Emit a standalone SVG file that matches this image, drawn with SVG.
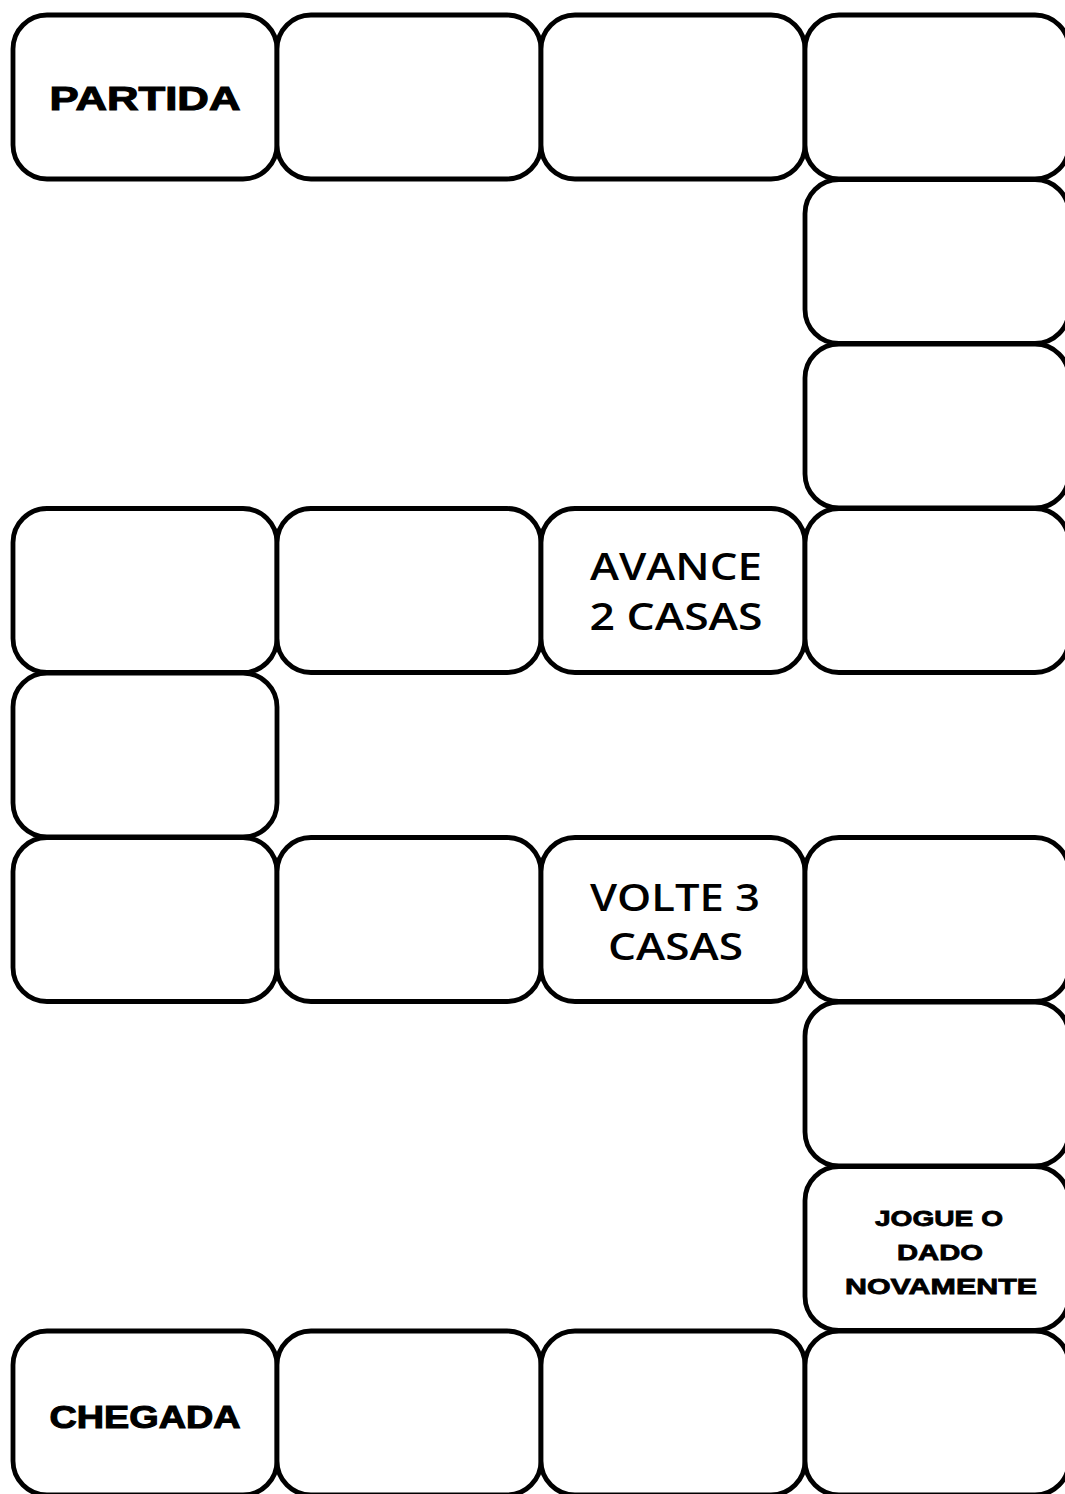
<svg xmlns="http://www.w3.org/2000/svg" width="1065" height="1494" viewBox="0 0 1065 1494">
  <style>
    .cell { fill: #ffffff; stroke: #000000; stroke-width: 4.8; }
    .heavy { font-family: "Liberation Sans", Arial, sans-serif; font-weight: 900; fill: #000; stroke: #000; stroke-width: 1.1; text-anchor: middle; }
    .heavy.small { stroke-width: 0.8; }
    .soft { font-family: "Open Sans", "Liberation Sans", sans-serif; font-weight: 600; fill: #000; text-anchor: middle; }
  </style>
  <defs>
    <rect id="tile" x="0" y="0" width="264" height="164" rx="34" ry="34"/>
  </defs>
  <rect width="1065" height="1494" fill="#ffffff"/>

  <!-- connectors: none, the track squares touch each other -->
  <g id="connectors"/>

  <!-- row 0 -->
  <g id="cell-partida">
    <use href="#tile" class="cell" x="13" y="15"/>
    <text class="heavy" x="145" y="110" font-size="34" textLength="191" lengthAdjust="spacingAndGlyphs">PARTIDA</text>
  </g>
  <g id="cell-r0c1"><use href="#tile" class="cell" x="277" y="15"/></g>
  <g id="cell-r0c2"><use href="#tile" class="cell" x="541" y="15"/></g>
  <g id="cell-r0c3"><use href="#tile" class="cell" x="805" y="15"/></g>

  <!-- right column going down -->
  <g id="cell-r1c3"><use href="#tile" class="cell" x="805" y="179.5"/></g>
  <g id="cell-r2c3"><use href="#tile" class="cell" x="805" y="344"/></g>

  <!-- row 3 -->
  <g id="cell-r3c0"><use href="#tile" class="cell" x="13" y="508.5"/></g>
  <g id="cell-r3c1"><use href="#tile" class="cell" x="277" y="508.5"/></g>
  <g id="cell-avance">
    <use href="#tile" class="cell" x="541" y="508.5"/>
    <text class="soft" x="676" y="580" font-size="37" textLength="172" lengthAdjust="spacingAndGlyphs">AVANCE</text>
    <text class="soft" x="676" y="630" font-size="37" textLength="173" lengthAdjust="spacingAndGlyphs">2 CASAS</text>
  </g>
  <g id="cell-r3c3"><use href="#tile" class="cell" x="805" y="508.5"/></g>

  <!-- left column going down -->
  <g id="cell-r4c0"><use href="#tile" class="cell" x="13" y="673"/></g>

  <!-- row 5 -->
  <g id="cell-r5c0"><use href="#tile" class="cell" x="13" y="837.5"/></g>
  <g id="cell-r5c1"><use href="#tile" class="cell" x="277" y="837.5"/></g>
  <g id="cell-volte">
    <use href="#tile" class="cell" x="541" y="837.5"/>
    <text class="soft" x="675" y="911" font-size="37" textLength="170" lengthAdjust="spacingAndGlyphs">VOLTE 3</text>
    <text class="soft" x="675.5" y="960" font-size="37" textLength="135" lengthAdjust="spacingAndGlyphs">CASAS</text>
  </g>
  <g id="cell-r5c3"><use href="#tile" class="cell" x="805" y="837.5"/></g>

  <!-- right column going down -->
  <g id="cell-r6c3"><use href="#tile" class="cell" x="805" y="1002"/></g>
  <g id="cell-jogue">
    <use href="#tile" class="cell" x="805" y="1166.5"/>
    <text class="heavy small" x="939" y="1226" font-size="22" textLength="128" lengthAdjust="spacingAndGlyphs">JOGUE O</text>
    <text class="heavy small" x="940" y="1260" font-size="22" textLength="86" lengthAdjust="spacingAndGlyphs">DADO</text>
    <text class="heavy small" x="941" y="1294" font-size="22" textLength="192" lengthAdjust="spacingAndGlyphs">NOVAMENTE</text>
  </g>

  <!-- row 8 -->
  <g id="cell-chegada">
    <use href="#tile" class="cell" x="13" y="1331"/>
    <text class="heavy" x="145" y="1428" font-size="32" textLength="191" lengthAdjust="spacingAndGlyphs">CHEGADA</text>
  </g>
  <g id="cell-r8c1"><use href="#tile" class="cell" x="277" y="1331"/></g>
  <g id="cell-r8c2"><use href="#tile" class="cell" x="541" y="1331"/></g>
  <g id="cell-r8c3"><use href="#tile" class="cell" x="805" y="1331"/></g>
</svg>
